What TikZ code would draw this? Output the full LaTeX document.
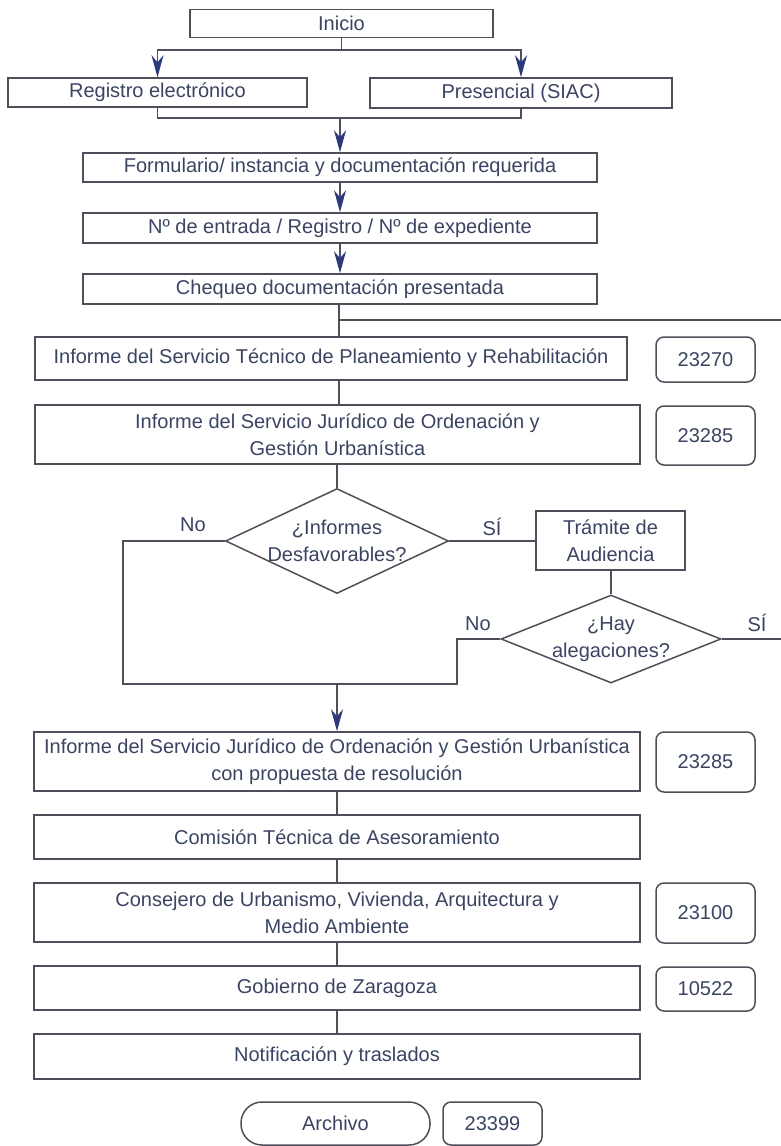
\documentclass[tikz,border=0pt]{standalone}
\usepackage{fontspec}
\setmainfont{Liberation Sans}
\usetikzlibrary{arrows.meta,shapes.geometric}
\definecolor{linec}{HTML}{4E4F58}
\definecolor{textc}{HTML}{3A4462}
\definecolor{arrowc}{HTML}{2C3A7C}
\begin{document}
\begin{tikzpicture}[x=1pt,y=-1pt,
  every node/.style={font=\fontsize{20pt}{27pt}\selectfont, text=textc},
  box/.style={draw=linec, line width=1.5pt, rectangle, inner sep=0pt, align=center},
  codebox/.style={box, rounded corners=8pt, minimum width=99pt},
  dia/.style={draw=linec, line width=1.5pt, diamond, inner sep=0pt},
  lbl/.style={inner sep=0pt, align=center},
  conn/.style={draw=linec, line width=1.5pt},
  arr/.style={conn, -{Stealth[length=22pt,width=12pt,inset=7pt,color=arrowc]}}]
\useasboundingbox (0,0) rectangle (781,1146);

% top part
\node[box, minimum width=303pt, minimum height=28pt] (inicio) at (341.5,23.5) {Inicio};
\node[box, minimum width=299pt, minimum height=29pt] (regis) at (157.5,92.5) {Registro electrónico};
\node[box, minimum width=302pt, minimum height=30pt] (pres) at (521,93) {Presencial (SIAC)};
\node[box, minimum width=514pt, minimum height=29pt] (form) at (340,167.5) {Formulario/ instancia y documentación requerida};
\node[box, minimum width=514pt, minimum height=30pt] (num) at (340,228) {Nº de entrada / Registro / Nº de expediente};
\node[box, minimum width=514pt, minimum height=30pt] (cheq) at (340,289) {Chequeo documentación presentada};

% reports
\node[box, minimum width=592pt, minimum height=43pt] (tec) at (331,358.5) {Informe del Servicio Técnico de Planeamiento y Rehabilitación};
\node[codebox, minimum height=45pt] (c1) at (705.5,359.5) {23270};
\node[box, minimum width=605pt, minimum height=59pt] (jur1) at (337.5,434.5) {Informe del Servicio Jurídico de Ordenación y\\Gestión Urbanística};
\node[codebox, minimum height=59pt] (c2) at (705.5,435.5) {23285};

% decisions
\node[dia, minimum width=223pt, minimum height=105pt] (d1) at (337,541) {};
\node[lbl] at (d1) {¿Informes\\Desfavorables?};
\node[box, minimum width=149pt, minimum height=59pt] (tram) at (610.5,540.5) {Trámite de\\Audiencia};
\node[dia, minimum width=220pt, minimum height=88pt] (d2) at (611,639) {};
\node[lbl] at (d2) {¿Hay\\alegaciones?};
\node[lbl] (no1) at (193,525) {No};
\node[lbl] (si1) at (492,527) {SÍ};
\node[lbl] (no2) at (478,624) {No};
\node[lbl] (si2) at (757,623) {SÍ};

% resolution
\node[box, minimum width=606pt, minimum height=59pt] (jur2) at (337,761.5) {Informe del Servicio Jurídico de Ordenación y Gestión Urbanística\\con propuesta de resolución};
\node[codebox, minimum height=60pt] (c3) at (705.5,762) {23285};
\node[box, minimum width=606pt, minimum height=44pt] (com) at (337,837) {Comisión Técnica de Asesoramiento};
\node[box, minimum width=606pt, minimum height=59pt] (cons) at (337,912.5) {Consejero de Urbanismo, Vivienda, Arquitectura y\\Medio Ambiente};
\node[codebox, minimum height=60pt] (c4) at (705.5,913) {23100};
\node[box, minimum width=606pt, minimum height=44pt] (gob) at (337,988) {Gobierno de Zaragoza};
\node[codebox, minimum height=44pt] (c5) at (705.5,989) {10522};
\node[box, minimum width=606pt, minimum height=45pt] (noti) at (337,1056.5) {Notificación y traslados};
\node[box, rounded corners=21pt, minimum width=189pt, minimum height=43pt] (arch) at (335.5,1123.5) {Archivo};
\node[codebox, minimum height=43pt] (c6) at (492.5,1123.5) {23399};

% junction points
\coordinate (sp) at (341.5,50);
\coordinate (mg) at (340,118);
\coordinate (br) at (339,320);
\coordinate (outA) at (781,320);
\coordinate (lw) at (123,684);
\coordinate (lmid) at (337,684);
\coordinate (jn) at (457,639);
\coordinate (outB) at (781,639);

% connectors
\draw[conn] (inicio.south) -- (sp);
\draw[arr] (sp) -| (regis.north);
\draw[arr] (sp) -| (pres.north);
\draw[conn] (regis.south) |- (mg) -| (pres.south);
\draw[arr] (mg) -- (form.north);
\draw[arr] (form.south) -- (num.north);
\draw[arr] (num.south) -- (cheq.north);
\draw[conn] (cheq.south -| br) -- (br) -- (outA);
\draw[conn] (br) -- (br |- tec.north);
\draw[conn] (br |- tec.south) -- (br |- jur1.north);
\draw[conn] (d1.north |- jur1.south) -- (d1.north);
\draw[conn] (d1.east) -- (d1.east -| tram.west);
\draw[conn] (d2.north |- tram.south) -- (d2.north);
\draw[conn] (d2.east) -- (outB);
\draw[conn] (d1.west) -| (lw) -| (jn) -- (d2.west);
\draw[arr] (lmid) -- (jur2.north);
\draw[conn] (jur2.south) -- (com.north);
\draw[conn] (com.south) -- (cons.north);
\draw[conn] (cons.south) -- (gob.north);
\draw[conn] (gob.south) -- (noti.north);
\end{tikzpicture}
\end{document}
